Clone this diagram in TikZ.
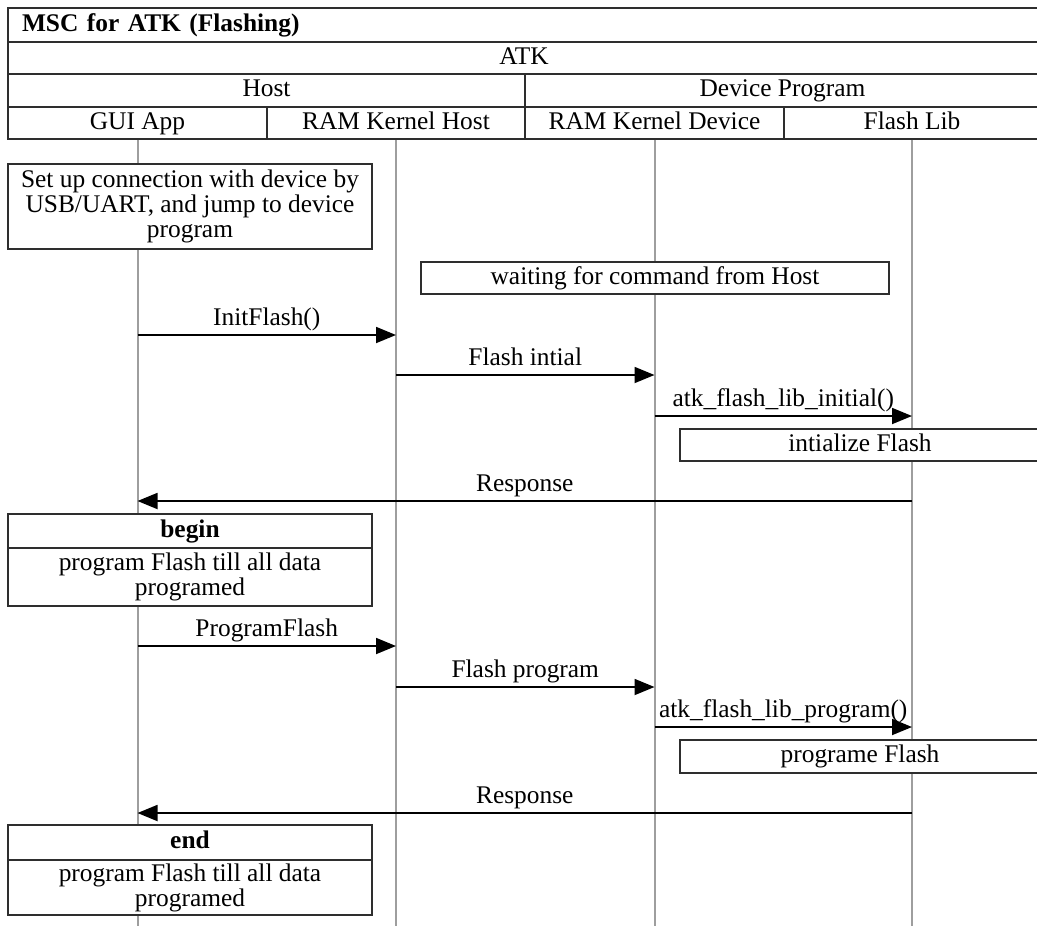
\documentclass[tikz,border=0pt]{standalone}
\usepackage{fontspec}
\setmainfont{Liberation Serif}
\usetikzlibrary{arrows.meta}
\definecolor{lifegray}{gray}{0.62}
\definecolor{boxline}{gray}{0.18}
\begin{document}
\begin{tikzpicture}[x=0.5pt,y=-0.5pt,
  font=\fontsize{12.7}{12.5}\selectfont,
  cell/.style={draw=boxline, line width=0.9pt, inner sep=0pt, align=center},
  one/.style={cell, text height=8.8pt, text depth=2.6pt},
  life/.style={draw=lifegray, line width=1pt},
  msg/.style={draw=black, line width=0.9pt, -{Triangle[length=10pt,width=8pt]}},
  mlabel/.style={midway, anchor=base, yshift=5pt, inner sep=0pt}]
\useasboundingbox (0,0) rectangle (1037,926);
% header
\node[one, minimum width=516pt, minimum height=17pt, text width=502pt, inner xsep=7pt, align=left, font=\fontsize{12.7}{12.5}\selectfont\bfseries] (title) at (524,25) {MSC for ATK (Flashing)};
\node[one, minimum width=516pt, minimum height=16pt] (atk) at (524,58) {ATK};
\node[one, minimum width=258.5pt, minimum height=16.5pt] (host) at (266.5,90.5) {Host};
\node[one, minimum width=257.5pt, minimum height=16.5pt] (dev) at (782.5,90.5) {Device Program};
\node[one, minimum width=129.5pt, minimum height=16pt] (gui) at (137.5,123) {GUI App};
\node[one, minimum width=129pt, minimum height=16pt] (rkh) at (396,123) {RAM Kernel Host};
\node[one, minimum width=129.5pt, minimum height=16pt] (rkd) at (654.5,123) {RAM Kernel Device};
\node[one, minimum width=128pt, minimum height=16pt] (flib) at (912,123) {Flash Lib};
% lifelines
\coordinate (bottom) at (0,926);
\draw[life] (gui.south) -- (gui.south |- bottom);
\draw[life] (rkh.south) -- (rkh.south |- bottom);
\draw[life] (rkd.south) -- (rkd.south |- bottom);
\draw[life] (flib.south) -- (flib.south |- bottom);
% notes
\node[cell, fill=white, minimum width=182pt, minimum height=42.5pt] (setup) at (190,206.5) {Set up connection with device by\\USB/UART, and jump to device\\program};
\node[one, fill=white, minimum width=234pt, minimum height=16pt] (wait) at (655,278) {waiting for command from Host};
\node[one, fill=white, minimum width=180pt, minimum height=16pt] (initf) at (860,445) {intialize Flash};
\node[one, fill=white, minimum width=182pt, minimum height=17pt, font=\fontsize{12.7}{12.5}\selectfont\bfseries] (beginh) at (190,531) {begin};
\node[cell, fill=white, minimum width=182pt, minimum height=29pt] (beginb) at (190,577) {program Flash till all data\\programed};
\node[one, fill=white, minimum width=180pt, minimum height=16.5pt] (progf) at (860,756.5) {programe Flash};
\node[one, fill=white, minimum width=182pt, minimum height=17.5pt, font=\fontsize{12.7}{12.5}\selectfont\bfseries] (endh) at (190,842.5) {end};
\node[cell, fill=white, minimum width=182pt, minimum height=27.5pt] (endb) at (190,887.5) {program Flash till all data\\programed};
% messages
\coordinate (m1) at (0,335);
\coordinate (m2) at (0,375);
\coordinate (m3) at (0,416);
\coordinate (m4) at (0,501);
\coordinate (m5) at (0,646);
\coordinate (m6) at (0,687);
\coordinate (m7) at (0,727);
\coordinate (m8) at (0,813);
\draw[msg] (gui |- m1) -- (rkh |- m1) node[mlabel] {InitFlash()};
\draw[msg] (rkh |- m2) -- (rkd |- m2) node[mlabel] {Flash intial};
\draw[msg] (rkd |- m3) -- (flib |- m3) node[mlabel] {atk\_flash\_lib\_initial()};
\draw[msg] (flib |- m4) -- (gui |- m4) node[mlabel] {Response};
\draw[msg] (gui |- m5) -- (rkh |- m5) node[mlabel] {ProgramFlash};
\draw[msg] (rkh |- m6) -- (rkd |- m6) node[mlabel] {Flash program};
\draw[msg] (rkd |- m7) -- (flib |- m7) node[mlabel] {atk\_flash\_lib\_program()};
\draw[msg] (flib |- m8) -- (gui |- m8) node[mlabel] {Response};
\end{tikzpicture}
\end{document}
